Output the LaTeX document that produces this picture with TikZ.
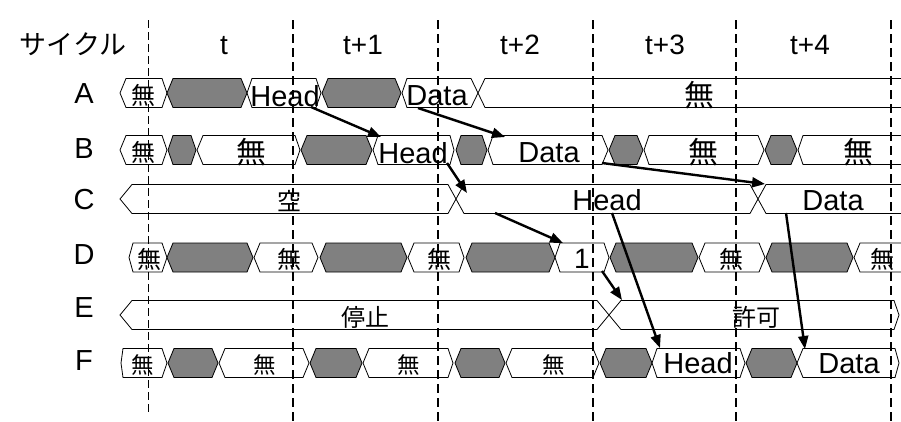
\documentclass[tikz,border=0pt]{standalone}
\usepackage{fontspec}
\setmainfont{Liberation Sans}
\newfontfamily\jp{Noto Sans CJK JP}
\usetikzlibrary{arrows.meta}
\definecolor{seggray}{HTML}{808080}
\newcommand\tseg[6]{\draw[seg,#6] (#1,#3) -- ({#1+#4},{#3-14.5}) -- ({#2-#5},{#3-14.5}) -- (#2,#3) -- ({#2-#5},{#3+14.5}) -- ({#1+#4},{#3+14.5}) -- cycle;}
\begin{document}
\begin{tikzpicture}[x=1pt,y=-1pt,
  seg/.style={draw=black,line width=0.8pt,fill=white,line join=miter},
  dk/.style={fill=seggray},
  wt/.style={fill=white},
  arr/.style={line width=2.4pt,-{Triangle[length=13pt,width=10pt]}},
  vthin/.style={line width=0.9pt,dash pattern=on 8pt off 4pt},
  vthick/.style={line width=2pt,dash pattern=on 9pt off 5pt},
  lab/.style={font=\fontsize{29}{29}\selectfont,inner sep=0pt},
  labb/.style={font=\fontsize{28}{28}\selectfont,inner sep=0pt,anchor=base},
  big/.style={font=\fontsize{29}{29}\selectfont,inner sep=0pt,anchor=base},
  jps/.style={font=\jp\fontsize{24}{24}\selectfont,inner sep=0pt},
  jpf/.style={font=\jp\fontsize{22.5}{22.5}\selectfont,inner sep=0pt},
  jpl/.style={font=\jp\fontsize{30}{30}\selectfont,inner sep=0pt}
]
\useasboundingbox (0,0) rectangle (901,421);
% Row A
\tseg{120}{167}{93}{6}{5}{wt}
\tseg{167}{247}{93}{6}{6}{dk}
\tseg{247}{321}{93}{5}{5}{wt}
\tseg{322}{401}{93}{6}{6}{dk}
\tseg{402}{478}{93}{5}{7}{wt}
\tseg{478}{930}{93}{7}{5}{wt}
% Row B
\tseg{120}{167}{150}{6}{5}{wt}
\tseg{168}{196}{150}{5}{5}{dk}
\tseg{197}{300}{150}{6}{5}{wt}
\tseg{301}{372}{150}{6}{6}{dk}
\tseg{373}{454}{150}{5}{4}{wt}
\tseg{456}{487}{150}{5}{5}{dk}
\tseg{488}{608}{150}{5}{6}{wt}
\tseg{609}{643}{150}{6}{6}{dk}
\tseg{644}{764}{150}{5}{6}{wt}
\tseg{765}{797}{150}{6}{6}{dk}
\tseg{798}{930}{150}{5}{5}{wt}
% Row C
\tseg{120}{456}{199}{12}{8}{wt}
\tseg{456}{758}{199}{8}{8}{wt}
\tseg{758}{930}{199}{8}{5}{wt}
% Row D
\tseg{129}{167}{257.5}{4}{5}{wt}
\tseg{167}{253}{257.5}{6}{6}{dk}
\tseg{254}{318}{257.5}{6}{6}{wt}
\tseg{320}{407}{257.5}{6}{6}{dk}
\tseg{408}{464}{257.5}{6}{5}{wt}
\tseg{466}{555}{257.5}{6}{6}{dk}
\tseg{555}{609}{257.5}{5}{5}{wt}
\tseg{610}{698}{257.5}{6}{6}{dk}
\tseg{699}{765}{257.5}{6}{6}{wt}
\tseg{766}{853}{257.5}{6}{6}{dk}
\tseg{854}{930}{257.5}{6}{5}{wt}
% Row E
\tseg{120}{609}{315}{12}{12}{wt}
\tseg{609}{899}{315}{12}{5}{wt}
% Row F
\tseg{121}{167}{363}{2}{5}{wt}
\tseg{168}{218}{363}{6}{6}{dk}
\tseg{219}{309}{363}{6}{6}{wt}
\tseg{310}{362}{363}{6}{6}{dk}
\tseg{363}{453}{363}{6}{5}{wt}
\tseg{455}{505}{363}{6}{6}{dk}
\tseg{506}{599}{363}{6}{6}{wt}
\tseg{600}{652}{363}{6}{6}{dk}
\tseg{652}{745}{363}{5}{5}{wt}
\tseg{746}{797}{363}{6}{6}{dk}
\tseg{797}{899}{363}{6}{4}{wt}
% header
\node[font=\jp\fontsize{27}{27}\selectfont,inner sep=0pt] (cyc) at (73,44) {サイクル};
\node[labb] (c0) at (224,54) {t};
\node[labb] (c1) at (363,54) {t+1};
\node[labb] (c2) at (520,54) {t+2};
\node[labb] (c3) at (665,54) {t+3};
\node[labb] (c4) at (810,54) {t+4};
% row labels
\node[lab] (lA) at (84,94) {A};
\node[lab] (lB) at (84,149) {B};
\node[lab] (lC) at (84,200) {C};
\node[lab] (lD) at (84,255) {D};
\node[lab] (lE) at (84,308) {E};
\node[lab] (lF) at (84,361) {F};
% texts A
\node[jps] (a1) at (143,95) {無};
\node[big] (a2) at (285,106) {Head};
\node[big] (a3) at (437,105) {Data};
\node[jpl] (a4) at (699,95) {無};
% texts B
\node[jps] (b1) at (143,152) {無};
\node[jpl] (b2) at (251,152) {無};
\node[big] (b3) at (413,163) {Head};
\node[big] (b4) at (549,162) {Data};
\node[jpl] (b5) at (703,152) {無};
\node[jpl] (b6) at (858,152) {無};
% texts C
\node[jps] (c1t) at (289,201) {空};
\node[big] (c2t) at (607,210) {Head};
\node[big] (c3t) at (833,210) {Data};
% texts D
\node[jps] (d1) at (149,259) {無};
\node[jps] (d2) at (289,259) {無};
\node[jps] (d3) at (439,259) {無};
\node[font=\fontsize{28}{28}\selectfont,inner sep=0pt,anchor=base] (d4) at (582,268) {1};
\node[jps] (d5) at (731,259) {無};
\node[jps] (d6) at (882,259) {無};
% texts E
\node[jps] (e1) at (365,317) {停止};
\node[jps] (e2) at (756,317) {許可};
% texts F
\node[jpf] (f1) at (143,365) {無};
\node[jpf] (f2) at (265,365) {無};
\node[jpf] (f3) at (409,365) {無};
\node[jpf] (f4) at (554,365) {無};
\node[big] (f5) at (698,373) {Head};
\node[big] (f6) at (849,373) {Data};
% cycle boundaries
\coordinate (v0t) at (148,20); \coordinate (v0b) at (148,415);
\coordinate (v1t) at (293,20); \coordinate (v1b) at (293,421);
\coordinate (v2t) at (438,20); \coordinate (v2b) at (438,421);
\coordinate (v3t) at (593,20); \coordinate (v3b) at (593,421);
\coordinate (v4t) at (736,20); \coordinate (v4b) at (736,421);
\coordinate (v5t) at (891,20); \coordinate (v5b) at (891,421);
\draw[vthin] (v0t) -- (v0b);
\draw[vthick] (v1t) -- (v1b);
\draw[vthick] (v2t) -- (v2b);
\draw[vthick] (v3t) -- (v3b);
\draw[vthick] (v4t) -- (v4b);
\draw[vthick] (v5t) -- (v5b);
% arrow endpoints
\coordinate (pAH) at (311,107); \coordinate (pBH) at (381,137);
\coordinate (pAD) at (418,108); \coordinate (pBD) at (505,137);
\coordinate (pBHo) at (447,163); \coordinate (pCH) at (467,193);
\coordinate (pBDo) at (602,163); \coordinate (pCD) at (765,184);
\coordinate (pCo) at (495,213); \coordinate (pD1) at (563,243);
\coordinate (pD1o) at (602,271); \coordinate (pE) at (622,300);
\coordinate (pCHo) at (612,213); \coordinate (pFH) at (660,348);
\coordinate (pCDo) at (786,213); \coordinate (pFD) at (805,349);
\draw[arr] (pAH) -- (pBH);
\draw[arr] (pAD) -- (pBD);
\draw[arr] (pBHo) -- (pCH);
\draw[arr] (pBDo) -- (pCD);
\draw[arr] (pCo) -- (pD1);
\draw[arr] (pD1o) -- (pE);
\draw[arr] (pCHo) -- (pFH);
\draw[arr] (pCDo) -- (pFD);
\end{tikzpicture}
\end{document}
